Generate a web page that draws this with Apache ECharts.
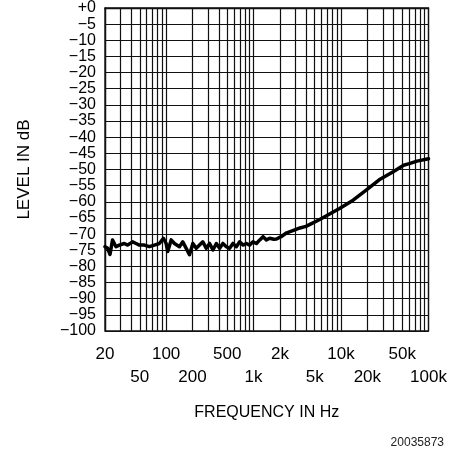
<!DOCTYPE html>
<html><head><meta charset="utf-8">
<script src="https://cdn.jsdelivr.net/npm/echarts@6/dist/echarts.min.js"></script>
<style>html,body{margin:0;padding:0;background:#fff}#c{width:459px;height:455px}</style>
</head><body><div id="c"></div>
<script>
// Frequency response data (Hz, dB)
const freqHz = [20,21.4,22.8,24.4,26.7,29.1,33.2,36.3,41.4,45.3,49.4,56.4,64.3,73.4,83.8,93.1,100,104.3,114.1,124.5,142,155,169.6,185,202,221,241,263,288,314,343,375,409,446,488,532,581,635,693,757,828,903,986,1078,1177,1284,1403,1530,1700,1829,2060,2390,2810,3390,3970,4470,5150,5840,6730,9610,13740,19380,27300,39500,51900,60300,73900,100000];
const levelDb = [-73.9,-74.4,-76.3,-71.8,-73.9,-73.4,-72.9,-73.4,-72.4,-72.9,-73.4,-73.4,-73.9,-73.4,-72.9,-71.3,-72.9,-75.4,-71.8,-72.9,-73.9,-72.4,-74.4,-76.4,-72.9,-74.4,-73.4,-72.4,-74.4,-72.9,-74.9,-72.9,-74.4,-72.9,-73.9,-74.4,-72.9,-73.9,-72.4,-73.4,-72.9,-73.4,-72.4,-72.9,-71.8,-70.8,-71.8,-71.3,-71.6,-71.5,-70.8,-69.6,-68.9,-68.1,-67.6,-66.9,-66.1,-65.3,-64.4,-62.1,-59.5,-56.4,-53.2,-50.7,-48.7,-48.2,-47.4,-46.7];

// Axis grid and tick labels
const gridFreqs = [20,30,40,50,60,70,80,90,100,200,300,400,500,600,700,800,900,1000,2000,3000,4000,5000,6000,7000,8000,9000,10000,20000,30000,40000,50000,60000,70000,80000,90000,100000];
const xRow1Freqs = [20,100,500,2000,10000,50000];
const xRow1Texts = ['20','100','500','2k','10k','50k'];
const xRow2Freqs = [50,200,1000,5000,20000,100000];
const xRow2Texts = ['50','200','1k','5k','20k','100k'];
const yMin = -100, yMax = 0, yStep = 5;

const lg = v => Math.log10(v);
const xMin = lg(20), xMax = lg(100000);
const pick = (freqs, texts) => v => {
  let best = 0;
  for (let i = 0; i < freqs.length; i++) {
    if (Math.abs(lg(freqs[i]) - v) < Math.abs(lg(freqs[best]) - v)) best = i;
  }
  return texts[best];
};
const chart = echarts.init(document.getElementById('c'), null, {renderer: 'canvas'});
const txt = '#000';
const labelFont = {fontFamily: 'Liberation Sans', fontSize: 17, color: txt, lineHeight: 23,
  showMinLabel: true, showMaxLabel: true, hideOverlap: false};
chart.setOption({
  animation: false,
  backgroundColor: '#fff',
  grid: {left: 105, right: 30.5, top: 6.6, bottom: 124, show: true, borderColor: '#111', borderWidth: 1.3, backgroundColor: 'transparent'},
  xAxis: [{
    type: 'value', min: xMin, max: xMax, position: 'bottom',
    name: 'FREQUENCY IN Hz', nameLocation: 'middle', nameGap: 74,
    nameTextStyle: {fontFamily: 'Liberation Sans', fontSize: 16, color: txt},
    axisLine: {show: true, lineStyle: {color: '#111', width: 1.3}},
    axisTick: {show: false, customValues: gridFreqs.map(lg)},
    splitLine: {show: true, lineStyle: {color: '#111', width: 1.2}},
    axisLabel: Object.assign({customValues: xRow1Freqs.map(lg), margin: 12,
      formatter: pick(xRow1Freqs, xRow1Texts)}, labelFont)
  }, {
    type: 'value', min: xMin, max: xMax, position: 'bottom', offset: 0,
    axisLine: {show: false}, axisTick: {show: false}, splitLine: {show: false},
    axisLabel: Object.assign({customValues: xRow2Freqs.map(lg), margin: 35,
      formatter: pick(xRow2Freqs, xRow2Texts)}, labelFont)
  }],
  yAxis: {
    type: 'value', min: yMin, max: yMax, interval: yStep,
    name: 'LEVEL IN dB', nameLocation: 'middle', nameGap: 72,
    nameTextStyle: {fontFamily: 'Liberation Sans', fontSize: 17, color: txt},
    axisLine: {show: true, lineStyle: {color: '#111', width: 1.3}},
    axisTick: {show: false},
    splitLine: {show: true, lineStyle: {color: '#111', width: 1.2}},
    axisLabel: {
      fontFamily: 'Liberation Sans', fontSize: 16, color: txt, margin: 9,
      formatter: v => v === 0 ? '+0' : '\u2212' + Math.abs(v)
    }
  },
  graphic: [{
    type: 'text', right: 15, bottom: 6,
    style: {text: '20035873', fontFamily: 'Liberation Sans', fontSize: 12, fill: '#222'}
  }],
  series: [{
    type: 'line', showSymbol: false, symbol: 'none', xAxisIndex: 0,
    data: freqHz.map((f, i) => [lg(f), levelDb[i]]),
    lineStyle: {color: '#000', width: 3.5, join: 'round', cap: 'round'}
  }]
});
</script>
</body></html>
